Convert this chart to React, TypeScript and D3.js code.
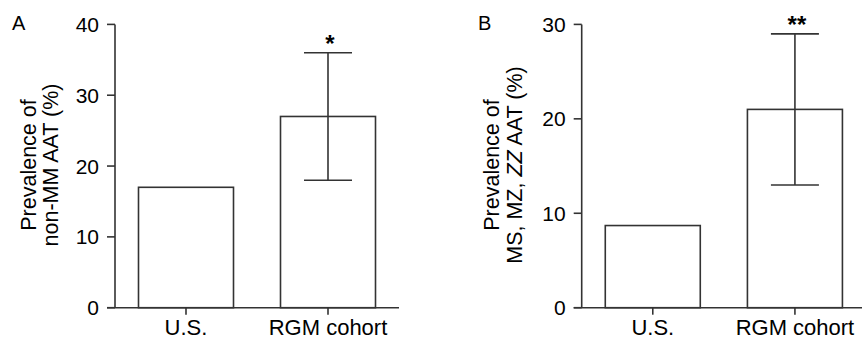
import React from 'react';
import * as d3 from 'd3';

const categories = ['U.S.', 'RGM cohort'];

// panel A: non-MM AAT
const valuesA = [17, 27];
const errLowA = [null, 18];
const errHighA = [null, 36];
const ticksA = [0, 10, 20, 30, 40];

// panel B: MS, MZ, ZZ AAT
const valuesB = [8.7, 21];
const errLowB = [null, 13];
const errHighB = [null, 29];
const ticksB = [0, 10, 20, 30];

const stars = ['', '*'];
const starsB = ['', '**'];

const INK = '#333';
const FONT = 'Liberation Sans, Arial, Helvetica, sans-serif';

interface PanelProps {
  letter: string;
  letterX: number;
  axisX: number;
  axisEnd: number;
  yMax: number;
  ticks: number[];
  values: number[];
  errLow: (number | null)[];
  errHigh: (number | null)[];
  marks: string[];
  label1: React.ReactNode;
  label2: React.ReactNode;
  label1X: number;
  label2X: number;
}

const Panel: React.FC<PanelProps> = ({
  letter, letterX, axisX, axisEnd, yMax, ticks, values, errLow, errHigh, marks,
  label1, label2, label1X, label2X,
}) => {
  const y = d3.scaleLinear().domain([0, yMax]).range([307.7, 24.4]);
  const x = d3.scalePoint<string>().domain(categories).range([axisX, axisEnd]).padding(0.5);
  const barW = 95;
  const capW = 48;
  const labelY = 165;

  return (
    <g fontFamily={FONT}>
      <text x={letterX} y={30} fontSize={20} fill="#000">{letter}</text>

      {/* bars */}
      {values.map((v, i) => (
        <rect key={i} x={x(categories[i])! - barW / 2} y={y(v)} width={barW} height={y(0) - y(v)}
          fill="#fff" stroke={INK} strokeWidth={1.6} />
      ))}

      {/* error bars */}
      {values.map((v, i) => {
        const lo = errLow[i];
        const hi = errHigh[i];
        if (lo == null || hi == null) return null;
        const cx = x(categories[i])!;
        return (
          <g key={i} stroke={INK} strokeWidth={1.6}>
            <line x1={cx} x2={cx} y1={y(lo)} y2={y(hi)} />
            <line x1={cx - capW / 2} x2={cx + capW / 2} y1={y(lo)} y2={y(lo)} />
            <line x1={cx - capW / 2} x2={cx + capW / 2} y1={y(hi)} y2={y(hi)} />
          </g>
        );
      })}

      {/* significance marks */}
      {marks.map((m, i) => {
        const hi = errHigh[i];
        if (!m || hi == null) return null;
        return (
          <text key={i} x={x(categories[i])! + 2} y={y(hi) - 1} textAnchor="middle" fontSize={24}
            fontWeight="bold" fill="#000">{m}</text>
        );
      })}

      {/* y axis */}
      <line x1={axisX} x2={axisX} y1={y(yMax)} y2={y(0)} stroke={INK} strokeWidth={1.6} />
      {ticks.map(t => (
        <g key={t}>
          <line x1={axisX - 8} x2={axisX} y1={y(t)} y2={y(t)} stroke={INK} strokeWidth={1.6} />
          <text x={axisX - 16} y={y(t)} dy="0.36em" textAnchor="end" fontSize={21} fill="#000">{t}</text>
        </g>
      ))}

      {/* x axis */}
      <line x1={axisX - 8} x2={axisEnd} y1={y(0)} y2={y(0)} stroke={INK} strokeWidth={1.6} />
      {categories.map(c => (
        <g key={c}>
          <line x1={x(c)} x2={x(c)} y1={y(0)} y2={y(0) + 7} stroke={INK} strokeWidth={1.6} />
          <text x={x(c)} y={335} textAnchor="middle" fontSize={22} fill="#000">{c}</text>
        </g>
      ))}

      {/* y label */}
      <text transform={`translate(${label1X},${labelY}) rotate(-90)`} textAnchor="middle" fontSize={21.5} fill="#000">{label1}</text>
      <text transform={`translate(${label2X},${labelY}) rotate(-90)`} textAnchor="middle" fontSize={21.5} fill="#000">{label2}</text>
    </g>
  );
};

export default function App() {
  return (
    <svg width={862} height={339} style={{ position: 'absolute', left: 0, top: 0, background: '#fff' }}>
      <Panel letter="A" letterX={12} axisX={115} axisEnd={399} yMax={40} ticks={ticksA}
        values={valuesA} errLow={errLowA} errHigh={errHighA} marks={stars}
        label1="Prevalence of" label2="non-MM AAT (%)" label1X={36} label2X={58} />
      <Panel letter="B" letterX={478} axisX={581.7} axisEnd={866} yMax={30} ticks={ticksB}
        values={valuesB} errLow={errLowB} errHigh={errHighB} marks={starsB}
        label1="Prevalence of"
        label2={<>MS, MZ, <tspan fontStyle="italic">ZZ</tspan> AAT (%)</>}
        label1X={499} label2X={522} />
    </svg>
  );
}
